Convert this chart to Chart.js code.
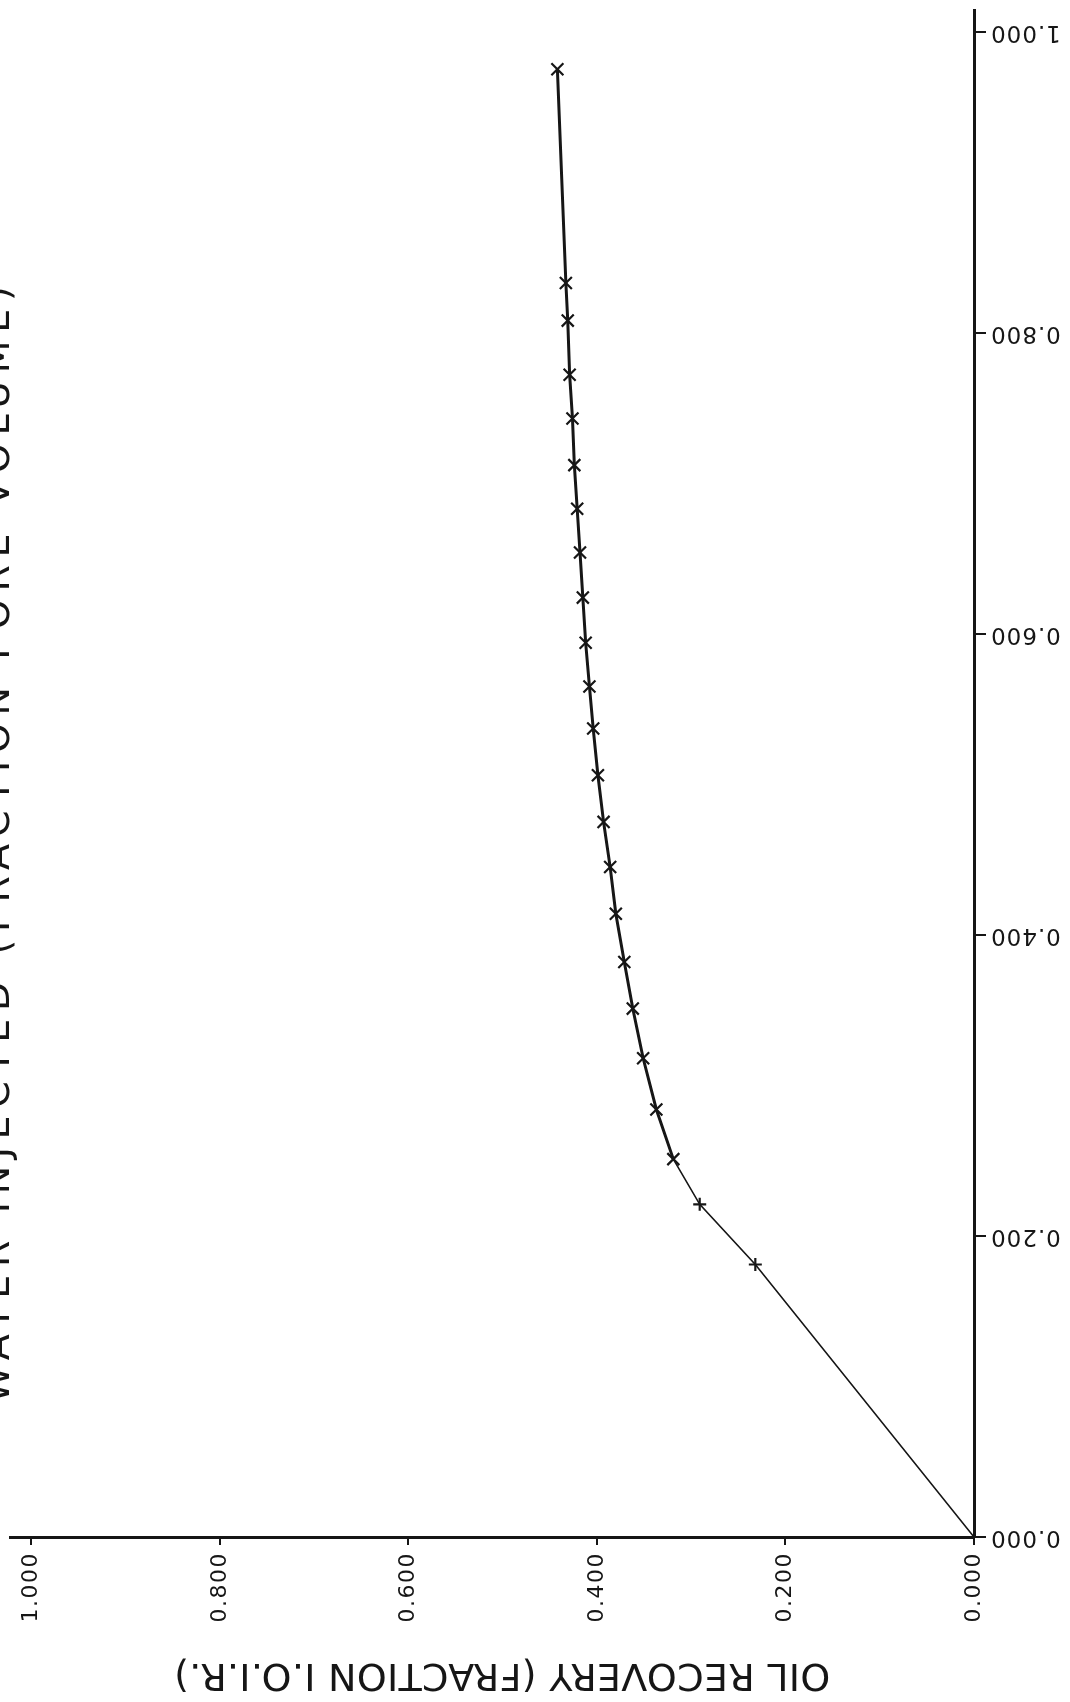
<!DOCTYPE html>
<html>
<head>
<meta charset="utf-8">
<title>Oil recovery vs water injected</title>
<script src="https://cdn.jsdelivr.net/npm/chart.js@4.4.1/dist/chart.umd.min.js"></script>
<style>
  html, body { margin: 0; padding: 0; background: #fff; }
  canvas { display: block; }
</style>
</head>
<body>
<canvas id="plot" width="1070" height="1702"></canvas>
<script>
// values (fractions)
const waterInjected = [0, 0.181, 0.221, 0.251, 0.284, 0.318, 0.351, 0.382, 0.414, 0.445, 0.475, 0.506,
  0.537, 0.565, 0.594, 0.624, 0.654, 0.683, 0.712, 0.743, 0.772, 0.808, 0.833, 0.975];
const oilRecovery = [0, 0.232, 0.291, 0.319, 0.337, 0.351, 0.362, 0.371, 0.380, 0.386, 0.393, 0.399,
  0.404, 0.408, 0.412, 0.415, 0.418, 0.421, 0.424, 0.426, 0.429, 0.431, 0.433, 0.442];

const tickValues = [0, 0.2, 0.4, 0.6, 0.8, 1.0];
const tickLabels = ["0.000", "0.200", "0.400", "0.600", "0.800", "1.000"];

const recoveryTitle = "OIL RECOVERY (FRACTION I.O.I.R.)";
const injectedTitle = "WATER INJECTED (FRACTION PORE VOLUME)";

const ink = "#161616";

const points = waterInjected.map((w, i) => ({ x: oilRecovery[i], y: w }));

// stretch a string to a given length with letter spacing
function fitSpacing(ctx, text, width) {
  ctx.letterSpacing = "0px";
  const natural = ctx.measureText(text).width;
  ctx.letterSpacing = ((width - natural) / (text.length - 1)).toFixed(2) + "px";
}

const paperLabels = {
  id: "paperLabels",
  afterDraw(chart) {
    const ctx = chart.ctx;
    const rec = chart.scales.rec;
    const inj = chart.scales.inj;
    ctx.save();
    ctx.fillStyle = ink;

    // tick labels, bottom axis read upward, right axis upside down
    ctx.font = '22px "DejaVu Sans"';
    ctx.letterSpacing = "1.5px";
    ctx.textBaseline = "middle";
    ctx.textAlign = "right";
    rec.ticks.forEach((t, i) => {
      ctx.save();
      ctx.translate(rec.getPixelForValue(t.value), rec.top + 15);
      ctx.rotate(-Math.PI / 2);
      ctx.fillText(tickLabels[i], 0, 0);
      ctx.restore();
    });
    ctx.font = '23px "DejaVu Sans"';
    ctx.letterSpacing = "1px";
    inj.ticks.forEach((t, i) => {
      ctx.save();
      ctx.translate(inj.left + 16, inj.getPixelForValue(t.value));
      ctx.rotate(Math.PI);
      ctx.fillText(tickLabels[i], 0, 0);
      ctx.restore();
    });

    // axis titles
    ctx.font = '38px "DejaVu Sans"';
    ctx.textAlign = "center";
    ctx.save();
    fitSpacing(ctx, recoveryTitle, 656);
    ctx.translate(502, 1674);
    ctx.rotate(Math.PI);
    ctx.fillText(recoveryTitle, 0, 0);
    ctx.restore();

    ctx.save();
    fitSpacing(ctx, injectedTitle, 1117);
    ctx.textBaseline = "alphabetic";
    ctx.translate(9, 841);
    ctx.rotate(-Math.PI / 2);
    ctx.fillText(injectedTitle, 0, 0);
    ctx.restore();

    ctx.restore();
  }
};

const setTicks = scale => {
  scale.ticks = tickValues.map(v => ({ value: v }));
};

new Chart(document.getElementById("plot"), {
  type: "scatter",
  data: {
    datasets: [{
      data: points,
      xAxisID: "rec",
      yAxisID: "inj",
      showLine: true,
      tension: 0,
      borderColor: ink,
      borderWidth: 2.6,
      segment: {
        borderWidth: c => (c.p0DataIndex < 3 ? 1.6 : 3)
      },
      pointStyle: c => (c.dataIndex <= 2 ? "cross" : "crossRot"),
      pointRadius: c => (c.dataIndex === 0 ? 0 : (c.dataIndex <= 2 ? 6.5 : 8.5)),
      pointBorderColor: ink,
      pointBorderWidth: 2.2,
      pointBackgroundColor: ink
    }]
  },
  options: {
    responsive: false,
    animation: false,
    layout: { padding: 0 },
    plugins: {
      legend: { display: false },
      tooltip: { enabled: false }
    },
    scales: {
      rec: {
        type: "linear",
        axis: "x",
        position: "bottom",
        reverse: true,
        min: 0,
        max: 1.022,
        afterFit: s => { s.height = 165; },
        afterBuildTicks: setTicks,
        ticks: { display: false },
        grid: {
          drawOnChartArea: false,
          drawTicks: true,
          tickLength: 8,
          color: ink,
          lineWidth: 2
        },
        border: { display: true, color: ink, width: 3 }
      },
      inj: {
        type: "linear",
        axis: "y",
        position: "right",
        min: 0,
        max: 1.01385,
        afterFit: s => { s.width = 96; },
        afterBuildTicks: setTicks,
        ticks: { display: false },
        grid: {
          drawOnChartArea: false,
          drawTicks: true,
          tickLength: 12,
          color: ink,
          lineWidth: 2
        },
        border: { display: true, color: ink, width: 3 }
      }
    }
  },
  plugins: [paperLabels]
});
</script>
</body>
</html>
